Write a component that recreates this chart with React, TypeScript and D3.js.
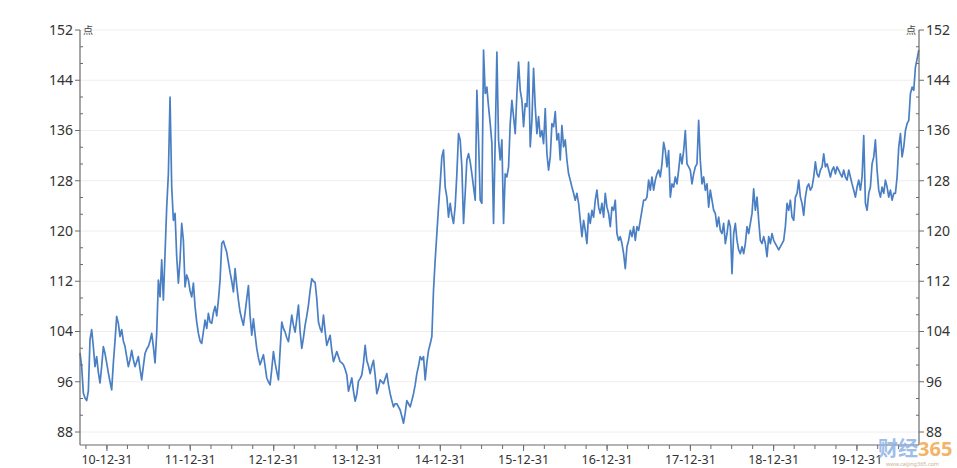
import React from 'react';
import * as d3 from 'd3';

// Series sampled (about weekly) from the reference picture, oldest first
const START_DATE = '2010-09-04';
const END_DATE = '2020-09-27';
const AXIS_START = '2010-09-04';
const AXIS_END = '2020-09-28';

const VALUES_2010_2012 = [
  100.6, 98.4, 94.2, 93.4, 93.0, 94.5, 102.7, 104.3, 101.6, 98.4,
  100, 97.5, 95.8, 98.5, 101.6, 100.5, 99, 97.4, 96, 94.7,
  99, 102.5, 106.4, 105.3, 103.2, 104.3, 102.5, 101.6, 100, 98.4,
  99.5, 101, 99.5, 98.4, 99.2, 100, 98, 96.3, 98.5, 100.5,
  101.2, 101.6, 102.5, 103.7, 101.6, 99, 103.7, 112.2, 109.5, 115.4,
  109, 116.4, 123.8, 129.1, 141.3, 127, 121.7, 122.8, 115.9, 111.7,
  115.4, 121.2, 118.5, 111.1, 113, 112.2, 110.5, 109.5, 111.7, 108,
  105.5, 103.7, 102.5, 102.1, 104, 105.8, 104.5, 106.9, 105.5, 105.3,
  107, 108, 106.5, 109, 112.2, 118,
];

const VALUES_2012_2013 = [
  118.4, 117.5, 116.6, 115, 113.4, 112, 110.3, 114, 111.3, 109,
  107.1, 106, 105, 107, 109.2, 111.3, 106.5, 103.4, 106, 103.5,
  101.3, 99.8, 98.7, 99.5, 100.3, 98.5, 96.6, 96, 95.5, 98,
  100.8, 99, 97.6, 96.3, 101, 105.5, 104.5, 103.9, 103, 102.4,
  104.5, 106.6, 105, 103.9, 106, 108.2, 104, 101.3, 103, 105,
  106.5, 108.2, 110.5, 112.4, 112, 111.8, 109.2, 105.5, 104.5, 103.9,
  106.6, 104, 101.8, 102.6, 103.4, 101, 99.2, 100, 100.8, 100,
  99.2, 99, 98.7, 98, 97.1, 94.5, 95.5, 96.6, 94.5, 92.9,
  94, 96.1, 96.5, 97.1, 99, 101.8,
];

const VALUES_2014_2015 = [
  99.4, 98.5, 97.3, 98.5, 99.4, 97, 94.1, 95, 96.3, 96,
  95.7, 96.5, 97.3, 95.5, 94.1, 93, 92, 92.5, 92.5, 92,
  91.5, 90.5, 89.4, 91, 93, 92.5, 92, 93, 94.1, 95.5,
  97.3, 98.5, 100, 99.5, 100, 96.3, 99, 101, 102, 103.2,
  110.6, 115.4, 119.6, 123.8, 127.6, 131.8, 132.9, 127, 125.4, 122.2,
  124.4, 122.5, 121.2, 124, 129.1, 135.5, 134.5, 130.2, 121.2, 126,
  131.3, 132.3, 131, 129.1, 127, 124.9, 142.4, 134.5, 124.9, 124.4,
  148.8, 141.9, 142.9, 139.8, 137.1, 134, 121.2, 134.5, 148.5, 134.5,
  131.3, 134.5, 121.2, 129.1,
];

const VALUES_2015_2016 = [
  128.6, 130.2, 137.1, 140.8, 138.2, 135.5, 141.9, 146.9, 142.4, 140.8,
  136.6, 140.3, 139.8, 146.9, 133.4, 137.6, 145.9, 139.8, 135.5, 138.2,
  135, 136, 133.9, 139.5, 132.3, 129.7, 131.8, 137.1, 136.6, 139,
  134.5, 135.5, 131.3, 136.8, 133.4, 134.5, 131.3, 129.1, 128.1, 127,
  126, 124.9, 126, 124.4, 121.7, 119.1, 121.7, 120.1, 118, 122.8,
  121.2, 123.3, 122.2, 124.9, 126.5, 123.8, 122.8, 124.4, 122.2, 126,
  123.8, 122.8, 120.7, 123.8, 123.3, 124.9, 119.6, 118.5, 119.1, 118,
  116.4, 114, 117.5, 118.5, 120.1, 119.1, 120.7, 118.5, 120.7, 120.1,
  121.7, 123.3, 124.9,
];

const VALUES_2017_2018 = [
  124.9, 125.4, 128.1, 126.5, 128.6, 126.5, 128.1, 129.1, 129.7, 128.6,
  130.7, 134.1, 132.8, 130.2, 132.8, 125.4, 127.5, 127, 128.6, 127.5,
  129.7, 132.3, 130.7, 132.8, 136, 130.7, 130.2, 129.7, 127.5, 129.1,
  130.2, 130.7, 137.6, 131.2, 127.5, 128.6, 126.5, 127.5, 123.8, 126.5,
  124.9, 123.3, 122.8, 120.7, 122.2, 120.1, 119.6, 121.2, 118, 119.6,
  121.7, 120.7, 113.2, 119.6, 121.2, 118.5, 117, 116.4, 117.5, 116.4,
  118, 120.7, 119.6, 121.2, 122.8, 126.7, 123.3, 125.4, 121.7, 118.5,
  118, 119.1, 118, 115.9, 119.1, 118, 119.6, 118.5, 118, 117.5,
  117, 117.5, 118, 118.5,
];

const VALUES_2019_2020 = [
  120.7, 124.4, 123.3, 124.9, 122.2, 121.7, 125.4, 126, 128.1, 125.4,
  124.4, 122.5, 125.4, 127, 127.5, 126.5, 127, 128.6, 131, 129.1,
  128.6, 129.7, 130.2, 132.3, 130.2, 130.7, 129.7, 128.6, 129.7, 130.2,
  129.1, 130.2, 129.7, 129.1, 128.6, 129.7, 128.6, 128.1, 129.7, 128.6,
  127.5, 126.5, 125.4, 127, 128.1, 126.5, 128.6, 135.2, 124.4, 123.3,
  126, 127, 130.7, 131.8, 134.5, 129.7, 126.5, 125.4, 127, 126,
  128.1, 127, 125.4, 126.5, 124.9, 126, 126, 128.6, 133.4, 135.5,
  131.8, 133.4, 136, 137.1, 137.6, 141.9, 142.9, 142.4, 146.1, 147.4,
  148.8,
];

const Y_TICKS = [88, 96, 104, 112, 120, 128, 136, 144, 152];
const X_LABEL_DATES = [
  '2010-12-31', '2011-12-31', '2012-12-31', '2013-12-31', '2014-12-31',
  '2015-12-31', '2016-12-31', '2017-12-31', '2018-12-31', '2019-12-31',
];
const UNIT = '点';

const FONT = "'Noto Sans', 'Noto Sans CJK SC', sans-serif";

export default function App() {
  const W = 957;
  const H = 468;
  const left = 80;
  const right = 919;
  const top = 30;
  const bottom = 432;
  const axisY = 445;

  const parse = d3.timeParse('%Y-%m-%d');
  const values = [
    ...VALUES_2010_2012,
    ...VALUES_2012_2013,
    ...VALUES_2014_2015,
    ...VALUES_2015_2016,
    ...VALUES_2017_2018,
    ...VALUES_2019_2020,
  ];

  const indexToTime = d3
    .scaleLinear()
    .domain([0, values.length - 1])
    .range([parse(START_DATE)!.getTime(), parse(END_DATE)!.getTime()]);

  const x = d3
    .scaleTime()
    .domain([parse(AXIS_START)!, parse(AXIS_END)!])
    .range([left, right]);
  const y = d3.scaleLinear().domain([88, 152]).range([bottom, top]);

  const line = d3
    .line<number>()
    .x((_, i) => x(new Date(indexToTime(i))))
    .y((d) => y(d));

  const minorY: number[] = [];
  for (let i = 0; i < Y_TICKS.length - 1; i++) {
    const a = Y_TICKS[i];
    const step = (Y_TICKS[i + 1] - a) / 3;
    minorY.push(a + step, a + 2 * step);
  }

  const quarterTicks = d3.timeMonth
    .every(3)!
    .range(parse('2010-07-01')!, parse('2020-12-01')!)
    .map((d) => d3.timeDay.offset(d, -1))
    .filter((d) => x(d) >= left && x(d) <= right);

  const labelDates = X_LABEL_DATES.map((s) => parse(s)!);
  const fmt = d3.timeFormat('%y-%m-%d');

  const axisColor = '#6b6b6b';
  const textColor = '#333333';

  return (
    <div style={{ position: 'absolute', left: 0, top: 0 }}>
      <svg width={W} height={H} style={{ display: 'block', background: '#fff' }}>
        {/* gridlines */}
        {Y_TICKS.map((t) => (
          <line key={'g' + t} x1={left} x2={right} y1={y(t)} y2={y(t)} stroke="#eeeeee" strokeWidth={1} />
        ))}

        {/* series */}
        <path d={line(values) || ''} fill="none" stroke="#4a7fc4" strokeWidth={1.7} strokeLinejoin="round" />

        {/* left axis */}
        <line x1={left} x2={left} y1={top} y2={axisY} stroke={axisColor} strokeWidth={1.2} />
        {Y_TICKS.map((t) => (
          <g key={'l' + t}>
            <line x1={left - 5} x2={left} y1={y(t)} y2={y(t)} stroke={axisColor} strokeWidth={1} />
            <text x={left - 7} y={y(t)} dy="0.35em" textAnchor="end" fontSize={14} fontFamily={FONT} fill={textColor}>
              {t}
            </text>
          </g>
        ))}
        {minorY.map((t) => (
          <line key={'lm' + t} x1={left} x2={left + 3} y1={y(t)} y2={y(t)} stroke={axisColor} strokeWidth={1} />
        ))}
        <text x={left + 3} y={top + 4} fontSize={10} fontFamily={FONT} fill="#444">
          {UNIT}
        </text>

        {/* right axis */}
        <line x1={right} x2={right} y1={top} y2={axisY} stroke={axisColor} strokeWidth={1.2} />
        {Y_TICKS.map((t) => (
          <g key={'r' + t}>
            <line x1={right} x2={right + 5} y1={y(t)} y2={y(t)} stroke={axisColor} strokeWidth={1} />
            <text x={right + 7} y={y(t)} dy="0.35em" textAnchor="start" fontSize={14} fontFamily={FONT} fill={textColor}>
              {t}
            </text>
          </g>
        ))}
        {minorY.map((t) => (
          <line key={'rm' + t} x1={right - 3} x2={right} y1={y(t)} y2={y(t)} stroke={axisColor} strokeWidth={1} />
        ))}
        <text x={right - 3} y={top + 4} textAnchor="end" fontSize={10} fontFamily={FONT} fill="#444">
          {UNIT}
        </text>

        {/* bottom axis */}
        <line x1={left} x2={right} y1={axisY} y2={axisY} stroke={axisColor} strokeWidth={1.2} />
        {quarterTicks.map((d) => (
          <line key={'q' + d.getTime()} x1={x(d)} x2={x(d)} y1={axisY} y2={axisY + 4} stroke={axisColor} strokeWidth={1} />
        ))}
        {labelDates.map((d) => (
          <g key={'x' + d.getTime()}>
            <line x1={x(d)} x2={x(d)} y1={axisY} y2={axisY + 6} stroke={axisColor} strokeWidth={1} />
            <text x={x(d)} y={axisY + 19} textAnchor="middle" fontSize={12.5} fontFamily={FONT} fill={textColor}>
              {fmt(d)}
            </text>
          </g>
        ))}

        {/* watermark */}
        <g opacity={0.85}>
          <text x={878} y={456} fontSize={20} fontWeight="bold" fontFamily={FONT} fill="#8fb2e6">
            财经
          </text>
          <text x={918} y={456} fontSize={20} fontWeight="bold" fontFamily={FONT} fill="#f2a64e">
            365
          </text>
          <text x={886} y={466} fontSize={5.5} fontFamily={FONT} fill="#c9a27a">
            www.caijing365.com
          </text>
        </g>
      </svg>
    </div>
  );
}
